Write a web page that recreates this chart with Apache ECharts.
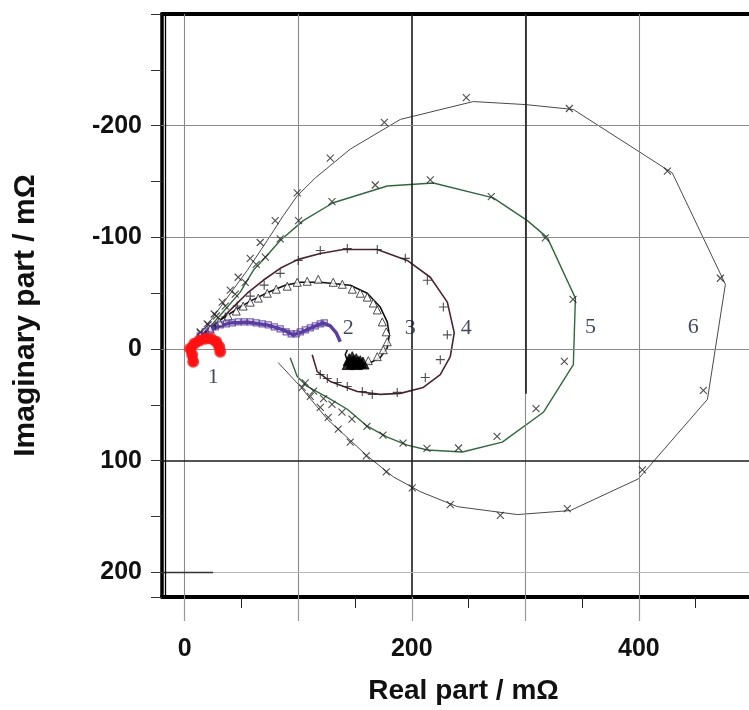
<!DOCTYPE html>
<html><head><meta charset="utf-8">
<script src="https://cdn.jsdelivr.net/npm/echarts@6/dist/echarts.min.js"></script>
<style>html,body{margin:0;padding:0;background:#fff}#c{width:749px;height:710px}</style>
</head><body><div id="c"></div>
<script>
// ---- axis ticks / labels ----
const xMinorTicks = [0,50,100,150,200,250,300,350,400,450];
const xMajorTicks = [0,100,200,300,400];
const xLabels = [0,200,400];
const yLabels = [-200,-100,0,100,200];
const gridX = [0,100,200,300,400];
const gridY = [-200,-100,0,100,200];

// ---- curve 1 (red) ----
const s1 = [[7.5,11.4],[6.6,5.1],[4.8,-0.3],[8.4,-4.7],[12.8,-7.5],[18.1,-9.2],[23.3,-9.2],[27.8,-6.5],[30.4,-2.0],[31.3,2.4]];
// ---- curve 2 (purple, squares) ----
const s2Line = [[6.6,-4.7],[13.7,-11.8],[22.5,-17.2],[28.6,-19.8],[40.1,-23.4],[55.1,-24.3],[72.7,-21.6],[86.8,-17.2],[95.6,-12.7],[103.5,-15.4],[113.2,-19.8],[122,-23.4],[128.2,-20.7],[133.5,-14.5],[137,-6.5]];
const s2Marks = [[13.7,-11.8],[18.1,-15.4],[22.5,-18],[26.9,-19.8],[31.3,-21.6],[36.6,-22.5],[41.9,-23.4],[47.1,-24.3],[52.4,-24.3],[57.7,-24.3],[63,-23.4],[68.3,-22.5],[73.6,-21.6],[78.9,-19.8],[84.1,-18],[89.4,-15.4],[93.8,-13.6],[98.2,-13.6],[101.8,-15.4],[106.2,-17.2],[110.6,-18.9],[115,-20.7],[119.4,-22.5],[122.9,-23.4]];
// ---- curve 3 (black, triangles) ----
const s3Line = [[5.7,-4.7],[18.1,-14.5],[31.3,-26],[44.5,-34.9],[57.7,-42.9],[73.6,-50.9],[88.5,-57.2],[101.8,-59.8],[119.4,-59.8],[145.8,-57.2],[160.8,-50],[172.2,-37.6],[178.4,-24.3],[180.2,-12.7],[178.4,-1.2],[172.2,7.7],[163.4,12.2],[151.9,13.9],[144,12.2],[141.4,5.1],[143.2,0.6]];
const s3Marks = [[13.7,-11.8],[22.5,-18],[30.4,-24.3],[38.3,-29.6],[45.4,-34],[51.5,-38.5],[57.7,-42],[64.8,-45.6],[72.7,-50],[80.6,-53.6],[90.3,-56.3],[99.1,-59.8],[107.9,-60.7],[117.6,-62.5],[130.8,-59.8],[138.8,-58],[147.6,-53.6],[154.6,-50],[160.8,-46.5],[166.1,-41.2],[169.6,-35],[174,-24.3],[177.5,-15.4],[178.4,-6.5],[174.9,0.6],[169.6,6.8],[161.7,10.4],[154.6,12.2],[148.5,13]];
const s3Blob = [[144.9,9.5],[147.6,12.2],[151.1,13],[154.6,11.3],[144,13],[147.6,7.7],[151.1,9.5],[157,12.5],[149,11],[153,12]];
// ---- curve 4 (maroon, plus) ----
const s4Line = [[5.7,-4.7],[18.1,-15.4],[31.3,-26],[42.7,-37.6],[55.1,-50],[69.2,-61.6],[84.1,-72.3],[100,-80.3],[119.4,-85.6],[139.6,-89.2],[169.6,-89.2],[196,-79.4],[216.3,-64.3],[231.3,-42],[237.4,-14.5],[233.9,6.8],[225.1,22.8],[210.1,34.4],[189.9,39.7],[172.2,40.6],[152,38],[128.2,29],[116.7,20.2],[112.3,5.1]];
const s4Marks = [[18.1,-12.7],[26.9,-20.7],[35.7,-28.7],[46.3,-38.5],[57.7,-47.4],[70,-57.2],[84.1,-67.8],[100,-79.4],[119.4,-88.3],[143.2,-90],[169.6,-89.2],[194.3,-81.2],[213.7,-61.6],[227.8,-37.6],[231.3,-12.7],[225.1,9.5],[211.9,25.5],[187.2,38.8],[165.2,40.6],[156.4,38],[143.2,33.5],[134.4,30],[125.6,26.4],[119.4,22.8]];
// ---- curve 5 (green, x) ----
const s5Line = [[5.7,-4.7],[19.8,-17.2],[33,-32.3],[48.9,-51],[60.4,-70.5],[70.9,-82],[84.1,-97.2],[104.4,-115],[130.8,-131],[178.4,-146],[219,-148.7],[271.8,-135.4],[301.8,-115],[319.4,-99.8],[344.1,-45.6],[342.3,13.9],[315.9,56.6],[279.7,83.3],[244.5,92.2],[213.7,90.4],[196,86],[178.4,78.8],[160.8,69.1],[143.2,53.9],[125.6,43.3],[107.9,33.5],[99.1,24.6],[92.9,7.7]];
const s5Marks = [[13.7,-14.5],[20.7,-21.7],[27.8,-29.6],[35.7,-38.5],[44.5,-49.2],[53.3,-59.8],[63,-75.8],[71,-82.3],[84.1,-98.7],[100.3,-114.9],[129.7,-132.1],[167.8,-146.9],[216.3,-151.4],[270,-136.5],[317.6,-99.6],[342,-44.4],[334.4,11],[309.4,53.3],[275.1,78.2],[241.2,88.6],[213.4,88.9],[192.3,84.2],[174.6,77.1],[160.5,69.3],[147.3,62.8],[138.5,56.4],[129.7,49.5],[122.3,44.4],[113.5,37.7],[106.2,30.2]];
// ---- curve 6 (grey, x) ----
const s6Line = [[5.7,-4.7],[18.1,-18.9],[34,-41.2],[55.1,-70.5],[72.7,-97.2],[86.8,-119.4],[99.1,-137.2],[115,-153.2],[145.8,-179],[189.9,-205.6],[254.2,-221.6],[300,-218.9],[342.3,-214.5],[429.5,-157.6],[476.2,-58],[460.4,45],[399.6,116.2],[339.6,144.6],[293,148.2],[240.1,141.1],[207.5,127.7],[183.7,114.4],[160.8,95.7],[125.6,62.8],[101.8,33.5],[82.4,12.2]];
const s6Marks = [[13.7,-15.4],[19.8,-22.5],[26,-31.4],[33,-42],[40.1,-52.7],[47.1,-64.3],[57.7,-81.2],[66.5,-95.4],[79.7,-115],[99.1,-139.8],[128.2,-171],[175.8,-203],[248,-225.2],[338.8,-215.4],[425.1,-159.4],[471.8,-63.4],[456.8,37],[403.1,108.2],[337,142.8],[278,149],[233.9,139.3],[200.4,124.2],[177.5,109.9],[159.9,95.7],[145.8,83.3],[135.2,71.7],[126.4,61.1],[119.4,52.2],[110.6,42.4],[103.5,34.4]];
// ---- curve number labels ----
const curveLabels = [['1',25.1,25.4],['2',144,-18.9],['3',198.7,-18.9],['4',248,-18.9],['5',357.3,-19.8],['6',448,-19.8]];

const X_SYM = 'path://M0,0L10,10M10,0L0,10';
const PLUS_SYM = 'path://M5,0L5,10M0,5L10,5';

const gridLineData = [];
gridX.forEach(v => gridLineData.push({xAxis: v, lineStyle: {color: v === 200 ? '#1a1a1a' : '#8a8a8a', width: v === 200 ? 1.6 : 1.1, type: 'solid'}}));
gridY.forEach(v => gridLineData.push({yAxis: v, lineStyle: {color: v === 100 ? '#1a1a1a' : (v === 200 ? '#b5b5b5' : '#8a8a8a'), width: v === 100 ? 1.6 : 1.1, type: 'solid'}}));
gridLineData.push([{coord: [300, -300], lineStyle: {color: '#1a1a1a', width: 1.6, type: 'solid'}}, {coord: [300, 40]}]);
gridLineData.push([{coord: [-20, 200], lineStyle: {color: '#333', width: 1.3, type: 'solid'}}, {coord: [25, 200]}]);
gridLineData.push({xAxis: -16.8, lineStyle: {color: '#000', width: 1.3, type: 'solid'}});

function lineSeries(data, color, width, z) {
  return {type: 'line', data: data, symbol: 'none', smooth: false, lineStyle: {color: color, width: width}, z: z, silent: true, animation: false};
}
function markSeries(data, symbol, size, color, fill, bw, z) {
  return {type: 'scatter', data: data, symbol: symbol, symbolSize: size, itemStyle: {color: fill, borderColor: color, borderWidth: bw}, z: z, silent: true, animation: false};
}

const tickFont = {fontFamily: 'Liberation Sans', fontWeight: 'bold', fontSize: 25, color: '#111'};
const nameFont = {fontFamily: 'Liberation Sans', fontWeight: 'bold', fontSize: 28, color: '#111'};

const chart = echarts.init(document.getElementById('c'), null, {renderer: 'canvas'});
chart.setOption({
  backgroundColor: '#fff',
  animation: false,
  grid: {left: 162, top: 14, right: 0, bottom: 111, show: false, containLabel: false},
  xAxis: [{
    type: 'value', min: -20, max: 497, position: 'bottom',
    name: 'Real part / m\u03A9', nameLocation: 'middle', nameGap: 80,
    nameTextStyle: Object.assign({}, nameFont, {padding: [0, 0, 0, 16]}),
    axisLine: {show: true, onZero: false, lineStyle: {color: '#000', width: 4}},
    axisTick: {show: true, length: 11, customValues: xMinorTicks, lineStyle: {color: '#222', width: 1}},
    axisLabel: {show: true, customValues: xLabels, margin: 40, ...tickFont},
    splitLine: {show: false}
  }, {
    type: 'value', min: -20, max: 497, position: 'bottom',
    axisLine: {show: false, onZero: false},
    axisTick: {show: true, length: 24, customValues: xMajorTicks, lineStyle: {color: '#999', width: 1.2}},
    axisLabel: {show: false},
    splitLine: {show: false}
  }, {
    type: 'value', min: -20, max: 497, position: 'top',
    axisLine: {show: true, onZero: false, lineStyle: {color: '#000', width: 4}},
    axisTick: {show: false}, axisLabel: {show: false}, splitLine: {show: false}
  }],
  yAxis: [{
    type: 'value', inverse: true, min: -300, max: 222, interval: 50, position: 'left',
    name: 'Imaginary part / m\u03A9', nameLocation: 'middle', nameGap: 121, nameRotate: 90,
    nameTextStyle: Object.assign({}, nameFont, {fontSize: 30, padding: [0, 20, 0, 0]}),
    axisLine: {show: true, onZero: false, lineStyle: {color: '#000', width: 3.5}},
    axisTick: {show: true, length: 11, lineStyle: {color: '#333', width: 1}},
    axisLabel: {show: true, margin: 20, ...tickFont, formatter: v => yLabels.includes(v) ? String(v) : ''},
    splitLine: {show: false}
  }],
  series: [
    Object.assign(lineSeries([], '#000', 1, 1), {markLine: {silent: true, symbol: 'none', label: {show: false}, animation: false, emphasis: {disabled: true}, data: gridLineData}}),
    lineSeries(s6Line, '#4a4a4a', 1, 3),
    markSeries(s6Marks, X_SYM, 7, '#222', 'none', 1.1, 6),
    lineSeries(s5Line, '#2f6a38', 1.4, 3),
    markSeries(s5Marks, X_SYM, 7, '#222', 'none', 1.1, 6),
    lineSeries(s4Line, '#4e2233', 1.6, 3),
    markSeries(s4Marks, PLUS_SYM, 9, '#222', 'none', 1.1, 6),
    lineSeries(s3Line, '#111', 1.6, 3),
    markSeries(s3Marks, 'triangle', 8, '#222', '#fff', 1, 6),
    markSeries(s3Blob, 'triangle', 12, '#000', '#000', 1, 7),
    lineSeries(s2Line, '#5a3ca4', 3.5, 4),
    markSeries(s2Marks, 'rect', 6, '#5a3ca4', 'none', 1.3, 6),
    Object.assign(lineSeries(s1, '#ff1111', 9, 8), {lineStyle: {color: '#ff1111', width: 9, cap: 'round', join: 'round'}}),
    markSeries(s1, 'circle', 12, '#ff1111', '#ff1111', 0, 9),
    {type: 'scatter', symbolSize: 0, z: 10, silent: true, animation: false,
     data: curveLabels.map(d => ({name: d[0], value: [d[1], d[2]]})),
     label: {show: true, position: 'inside', formatter: p => p.name, fontFamily: 'Liberation Serif', fontSize: 22, color: '#14183a'}}
  ]
});
</script>
</body></html>
